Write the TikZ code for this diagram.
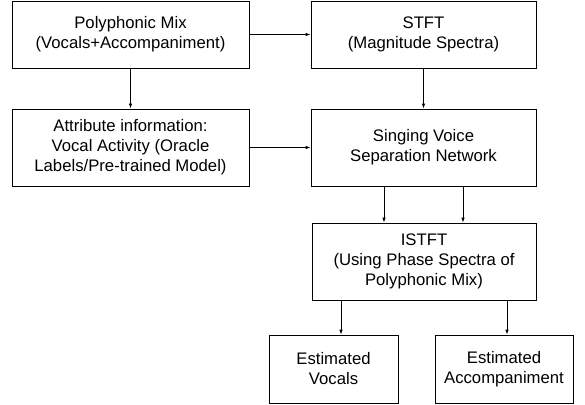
\documentclass[tikz,border=0pt]{standalone}
\usepackage{fontspec}
\setmainfont{Liberation Sans}
\usepackage{tikz}
\usetikzlibrary{arrows.meta}

\tikzset{
  blk/.style={draw, line width=0.8pt, align=center, inner sep=0pt,
    font=\fontsize{16.7}{20}\selectfont},
  arr/.style={-{Latex[length=5pt,width=3.5pt]}, line width=0.8pt}
}

\begin{document}
\begin{tikzpicture}[x=1pt,y=-1pt]
		\useasboundingbox (0,0) rectangle (585,404);
		\node[blk, minimum width=237pt, minimum height=67pt] (mix) at (130.5,34.5) {Polyphonic Mix\\(Vocals+Accompaniment)};
		\node[blk, minimum width=225pt, minimum height=67pt] (stft) at (423.5,34.5) {STFT\\(Magnitude Spectra)};
		\node[blk, minimum width=237pt, minimum height=77pt] (attr) at (130.5,147.5) {Attribute information:\\Vocal Activity (Oracle\\Labels/Pre-trained Model)};
		\node[blk, minimum width=225pt, minimum height=77pt] (svsn) at (423.5,147.5) {Singing Voice\\Separation Network};
		\node[blk, minimum width=224pt, minimum height=77pt] (istft) at (424,261.5) {ISTFT\\(Using Phase Spectra of\\Polyphonic Mix)};
		\node[blk, minimum width=129pt, minimum height=68pt] (voc) at (333.5,369) {Estimated\\Vocals};
		\node[blk, minimum width=138pt, minimum height=68pt] (acc) at (504,369) {Estimated\\Accompaniment};
		%
		\path[arr]
		(mix) edge (stft)
		(mix) edge (attr)
		(stft) edge (svsn)
		(attr) edge (svsn)
		([xshift=-39.5pt]svsn.south) edge ([xshift=-40pt]istft.north)
		([xshift=39.5pt]svsn.south) edge ([xshift=39pt]istft.north)
		([xshift=-83pt]istft.south) edge ([xshift=-83pt]istft.south |- voc.north)
		([xshift=83pt]istft.south) edge ([xshift=83pt]istft.south |- acc.north);
		\end{tikzpicture}
\end{document}
